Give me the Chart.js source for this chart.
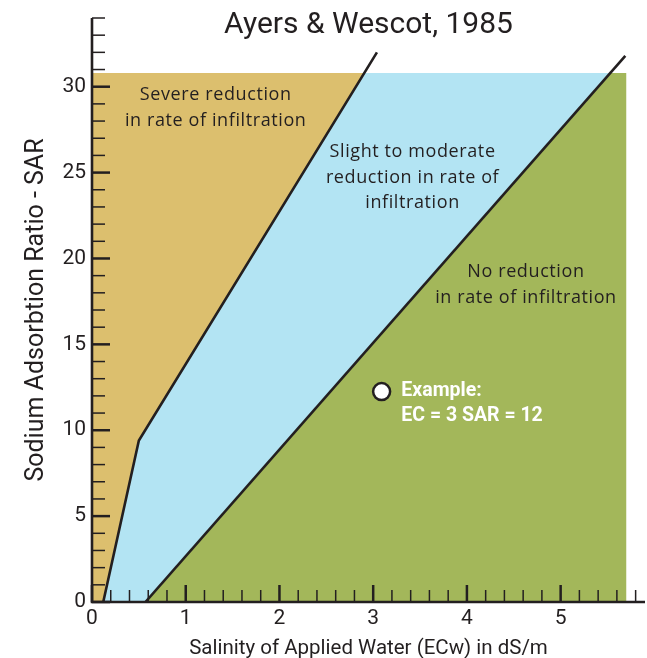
<!DOCTYPE html>
<html>
<head>
<meta charset="utf-8">
<script src="https://cdn.jsdelivr.net/npm/chart.js@4"></script>
<style>
  html, body { margin: 0; padding: 0; background: #fff; overflow: hidden; }
  canvas { display: block; }
</style>
</head>
<body>
<canvas id="grafico" width="647" height="658"></canvas>
<script>
// === DATA (ECw in dS/m, SAR) ===
const xTicks = [0, 1, 2, 3, 4, 5];
const yTicks = [0, 5, 10, 15, 20, 25, 30];
const severeZone = [[0, 0], [0.12, 0], [0.5, 9.4], [2.9, 30.8], [0, 30.8]];
const slightZone = [[0.12, 0], [0.57, 0], [5.53, 30.8], [2.9, 30.8], [0.5, 9.4]];
const noneZone = [[0.57, 0], [5.7, 0], [5.7, 30.8], [5.53, 30.8]];
const severeLine = [[0.12, 0], [0.5, 9.4], [3.04, 32.0]];
const noneLine = [[0.57, 0], [5.69, 31.8]];
const examplePoint = [[3.09, 12.25]];

const toXY = arr => arr.map(([x, y]) => ({ x, y }));
const INK = '#231f20';

const zona = (data, color) => ({
  data: toXY(data), showLine: true, fill: 'shape', backgroundColor: color,
  borderWidth: 0, pointRadius: 0, order: 3
});
const linea = data => ({
  data: toXY(data), showLine: true, fill: false, borderColor: INK,
  borderWidth: 2.6, pointRadius: 0, order: 2
});

// === TEXTOS Y EJES PROPIOS ===
const dibujo = {
  id: 'dibujo',
  afterDatasetsDraw(chart) {
    const { ctx, chartArea: a, scales: { x, y } } = chart;
    ctx.save();
    ctx.strokeStyle = INK;
    // marcas menores/mayores hacia dentro
    for (let v = 0; v <= 34; v++) {
      const py = y.getPixelForValue(v);
      const major = v % 5 === 0;
      ctx.lineWidth = major ? 2.5 : 1.5;
      ctx.beginPath(); ctx.moveTo(a.left, py); ctx.lineTo(a.left + (major ? 18 : 13), py); ctx.stroke();
    }
    for (let i = 0; i <= 29; i++) {
      const px = x.getPixelForValue(i / 5);
      const major = i % 5 === 0;
      ctx.lineWidth = major ? 2.5 : 1.5;
      ctx.beginPath(); ctx.moveTo(px, a.bottom); ctx.lineTo(px, a.bottom - (major ? 17 : 12)); ctx.stroke();
    }
    ctx.lineWidth = 2.6;
    ctx.beginPath();
    ctx.moveTo(a.left, a.top); ctx.lineTo(a.left, a.bottom); ctx.lineTo(a.right, a.bottom);
    ctx.stroke();

    // título
    ctx.fillStyle = INK;
    ctx.textAlign = 'center';
    ctx.textBaseline = 'middle';
    ctx.font = '30px Roboto';
    ctx.fillText('Ayers & Wescot, 1985', (a.left + a.right) / 2, 25);

    // rótulos de zonas
    ctx.font = '18px "Open Sans"';
    ctx.letterSpacing = '0.6px';
    const bloque = (lines, vx, vy) => {
      const px = x.getPixelForValue(vx), py = y.getPixelForValue(vy);
      lines.forEach((t, i) => ctx.fillText(t, px, py + i * 25.5));
    };
    bloque(['Severe reduction', 'in rate of infiltration'], 1.32, 29.5);
    bloque(['Slight to moderate', 'reduction in rate of', 'infiltration'], 3.42, 26.2);
    bloque(['No reduction', 'in rate of infiltration'], 4.63, 19.2);

    // ejemplo
    ctx.letterSpacing = '0px';
    ctx.fillStyle = '#fff';
    ctx.textAlign = 'left';
    ctx.font = 'bold 19.5px Roboto';
    const ex = x.getPixelForValue(3.3), ey = y.getPixelForValue(12.27);
    ctx.fillText('Example:', ex, ey);
    ctx.fillText('EC = 3 SAR = 12', ex, ey + 25);
    ctx.restore();
  }
};

const ctx = document.getElementById('grafico').getContext('2d');
new Chart(ctx, {
  type: 'scatter',
  data: {
    datasets: [
      {
        data: toXY(examplePoint), pointRadius: 8.5, pointBackgroundColor: '#fff',
        pointBorderColor: INK, pointBorderWidth: 2.5, order: 0
      },
      linea(severeLine),
      linea(noneLine),
      zona(severeZone, '#dcbf6e'),
      zona(slightZone, '#b3e4f3'),
      zona(noneZone, '#a3b75a')
    ]
  },
  options: {
    responsive: false,
    animation: false,
    layout: { autoPadding: false, padding: { top: 18, right: 2, left: 0, bottom: 0 } },
    plugins: { legend: { display: false }, tooltip: { enabled: false }, title: { display: false } },
    scales: {
      x: {
        type: 'linear', min: 0, max: 5.9,
        afterBuildTicks: s => { s.ticks = xTicks.map(value => ({ value })); },
        afterFit: s => { s.height = 56; s.paddingLeft = 0; s.paddingRight = 0; },
        grid: { display: false, drawTicks: false },
        border: { display: false },
        ticks: { color: INK, font: { family: 'Roboto', size: 21 }, padding: 4 },
        title: {
          display: true, text: 'Salinity of Applied Water (ECw) in dS/m', color: INK,
          font: { family: 'Roboto', size: 20.5 }, padding: { top: 0, bottom: -3 }
        }
      },
      y: {
        type: 'linear', min: 0, max: 34,
        afterBuildTicks: s => { s.ticks = yTicks.map(value => ({ value })); },
        afterFit: s => { s.width = 92; s.paddingTop = 0; s.paddingBottom = 0; },
        grid: { display: false, drawTicks: false },
        border: { display: false },
        ticks: { color: INK, font: { family: 'Roboto', size: 21 }, padding: 6 },
        title: {
          display: true, text: 'Sodium Adsorbtion Ratio - SAR', color: INK,
          font: { family: 'Roboto', size: 25 }, padding: { top: 22, bottom: 0 }
        }
      }
    }
  },
  plugins: [dibujo]
});
</script>
</body>
</html>
